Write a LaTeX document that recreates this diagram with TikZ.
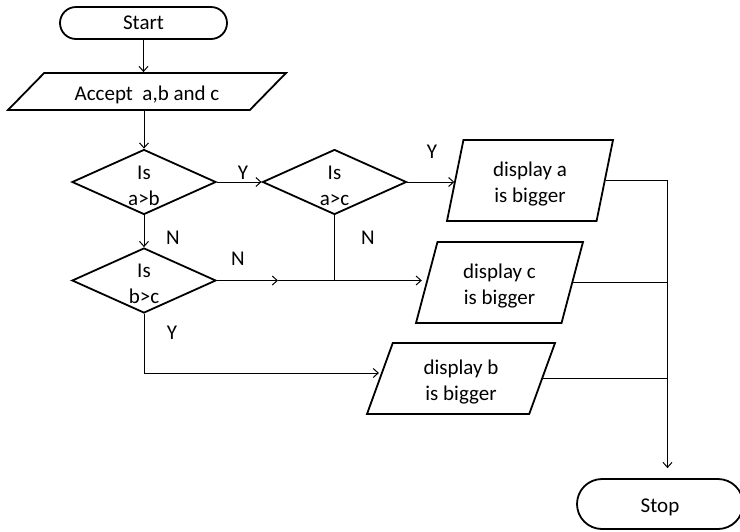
\documentclass[tikz,border=0pt]{standalone}
\usepackage{fontspec}
\setmainfont{Carlito}
\usetikzlibrary{shapes.geometric,shapes.misc,arrows.meta,calc}
\newcommand{\lift}{\rule{0pt}{21pt}}
\begin{document}
\begin{tikzpicture}[x=1pt,y=-1pt,
 base/.style={draw,line width=1.8pt,font=\fontsize{21}{26}\selectfont,align=center,inner sep=0pt},
 term/.style={base,rounded rectangle},
 dec/.style={base,diamond,shape aspect=2.2,minimum width=144pt,minimum height=65pt},
 io/.style={base,trapezium,trapezium stretches body},
 conn/.style={line width=1pt},
 arr/.style={conn,-{Straight Barb[length=5pt,width=9pt]}},
 lab/.style={font=\fontsize{21}{24}\selectfont,inner sep=0pt}]
\useasboundingbox (0,0) rectangle (740,531);
\node[term,minimum width=167pt,minimum height=32pt] (start) at (143.5,23) {Start};
\node[io,trapezium left angle=34,trapezium right angle=146,minimum width=278pt,minimum height=37pt] (acc) at (147,91.5) {\lift Accept\ \ a,b and c};
\node[dec] (d1) at (144,182) {\lift Is\\a>b};
\node[dec] (d2) at (334.5,182) {\lift Is\\a>c};
\node[dec] (d3) at (144,280.5) {\lift Is\\b>c};
\node[io,trapezium left angle=72,trapezium right angle=108,minimum width=166pt,minimum height=81pt] (da) at (530,180.5) {\lift display a\\is bigger};
\node[io,trapezium left angle=67,trapezium right angle=113,minimum width=167pt,minimum height=81pt] (dc) at (499.5,282.5) {\lift display c\\is bigger};
\node[io,trapezium left angle=63,trapezium right angle=117,minimum width=188pt,minimum height=71pt] (db) at (461,378.5) {\lift display b\\is bigger};
\node[term,minimum width=166pt,minimum height=50pt] (stop) at (660,504) {\lift Stop};
\coordinate (m1) at (278,280.5);
\coordinate (bus) at (667.5,182);
\draw[arr] (start.south) -- (start.south |- acc.north);
\draw[arr] (acc.south -| d1.north) -- (d1.north);
\draw[arr] (d1.east) -- (d2.west);
\draw[arr] (d2.east) -- (d2.east -| da.west);
\draw[arr] (d1.south) -- (d3.north);
\draw[arr] (d3.east) -- (m1);
\draw[arr,shorten >=4pt] (m1) -- (m1 -| dc.west);
\draw[conn] (d2.south) -- (d2.south |- m1);
\draw[arr] (d3.south) |- ([yshift=5.5pt]db.west);
\draw[conn] (da.east) -- (da.east -| bus);
\draw[conn] (dc.east) -- (dc.east -| bus);
\draw[conn] (db.east) -- (db.east -| bus);
\draw[arr,shorten >=10pt] (da.east -| bus) -- (stop.north -| bus);
\node[lab] (y1) at (243,173) {Y};
\node[lab] (y2) at (432,152) {Y};
\node[lab] (n1) at (173,238) {N};
\node[lab] (n2) at (368,238) {N};
\node[lab] (n3) at (238,259) {N};
\node[lab] (y3) at (172,333) {Y};
\end{tikzpicture}
\end{document}
